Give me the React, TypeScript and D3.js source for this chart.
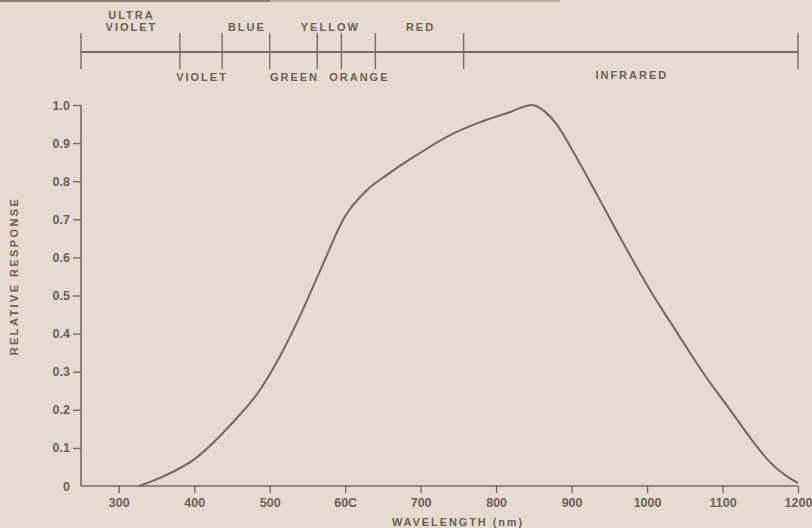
import React, { useEffect, useRef } from "react";
import * as d3 from "d3";

const width = 812;
const height = 528;
const marginTop = 105;
const marginRight = 14;
const marginBottom = 42;
const marginLeft = 81;

// response curve
const wavelengths = [
  327, 360, 400, 447, 487, 514, 540, 567, 600, 629, 655, 695, 739, 779, 815,
  848, 865, 880, 902, 924, 960, 1004, 1040, 1074, 1110, 1140, 1163, 1185, 1200,
];
const responses = [
  0, 0.026, 0.07, 0.158, 0.252, 0.342, 0.446, 0.566, 0.708, 0.777, 0.816,
  0.869, 0.921, 0.955, 0.979, 1.0, 0.982, 0.95, 0.878, 0.8, 0.668, 0.514,
  0.402, 0.298, 0.2, 0.118, 0.062, 0.026, 0.008,
];

const xTicks = [300, 400, 500, 600, 700, 800, 900, 1000, 1100, 1200];
const xTickLabels = ["300", "400", "500", "60C", "700", "800", "900", "1000", "1100", "1200"];
const yTicks = [0, 0.1, 0.2, 0.3, 0.4, 0.5, 0.6, 0.7, 0.8, 0.9, 1.0];

// spectrum bands on top
const bandEdges = [250, 381, 437, 500, 563, 595, 640, 757, 1200];
const bandNames = ["ULTRA|VIOLET", "VIOLET", "BLUE", "GREEN", "YELLOW", "ORANGE", "RED", "INFRARED"];

const ink = "#766a62";
const textInk = "#6a5e57";
const font = "'Liberation Sans', Arial, sans-serif";

export default function App() {
  const ref = useRef<SVGSVGElement>(null);

  useEffect(() => {
    const svg = d3.select(ref.current);
    svg.selectAll("*").remove();

    const x = d3.scaleLinear().domain([250, 1200]).range([marginLeft, width - marginRight]);
    const y = d3.scaleLinear().domain([0, 1]).range([height - marginBottom, marginTop]);

    svg.append("rect").attr("width", width).attr("height", height).attr("fill", "#e5dccf");

    // scan edge at the top
    svg.append("line").attr("x1", 0).attr("x2", 270).attr("y1", 1).attr("y2", 1)
      .attr("stroke", "#8a7b6e").attr("stroke-width", 2);
    svg.append("line").attr("x1", 270).attr("x2", 560).attr("y1", 1).attr("y2", 1)
      .attr("stroke", "#a99b8e").attr("stroke-width", 1.5);

    // spectrum bar
    const barY = 52;
    const bar = svg.append("g").attr("stroke", ink).attr("stroke-width", 1.4);
    bar.append("line")
      .attr("x1", x(bandEdges[0])).attr("x2", x(bandEdges[bandEdges.length - 1]))
      .attr("y1", barY).attr("y2", barY).attr("stroke-width", 1.8);
    bar.selectAll(".edge").data(bandEdges).join("line")
      .attr("x1", d => x(d)).attr("x2", d => x(d))
      .attr("y1", 33).attr("y2", 69);

    const labels = svg.append("g")
      .attr("font-family", font).attr("font-size", 11).attr("font-weight", "bold")
      .attr("fill", textInk).attr("letter-spacing", 2).attr("text-anchor", "middle");
    bandNames.forEach((name, i) => {
      const cx = (x(bandEdges[i]) + x(bandEdges[i + 1])) / 2;
      const above = i % 2 === 0;
      const lines = name.split("|");
      lines.forEach((ln, j) => {
        const base = above ? 31 - (lines.length - 1 - j) * 12.5 : (name === "INFRARED" ? 79 : 81);
        labels.append("text").attr("x", cx + 1).attr("y", base).text(ln);
      });
    });

    // y axis
    const yAxis = svg.append("g").attr("transform", `translate(${marginLeft},0)`)
      .call(d3.axisLeft(y).tickValues(yTicks).tickSize(8).tickPadding(3)
        .tickFormat(d => (d === 0 ? "0" : d3.format(".1f")(d as number))));
    yAxis.select(".domain").attr("stroke", ink).attr("stroke-width", 1.6)
      .attr("d", `M0,${y(1)}V${y(0)}`);
    yAxis.selectAll(".tick line").attr("stroke", ink).attr("stroke-width", 1.4);
    yAxis.select(".tick:first-of-type line").remove();
    yAxis.selectAll(".tick text").attr("fill", textInk).attr("font-family", font)
      .attr("font-size", 12.5).attr("font-weight", "bold");
    yAxis.select(".tick:first-of-type text").attr("x", -11);

    // x axis
    const xAxis = svg.append("g").attr("transform", `translate(0,${y(0)})`)
      .call(d3.axisBottom(x).tickValues(xTicks).tickSize(7).tickPadding(5)
        .tickFormat((d, i) => xTickLabels[i]));
    xAxis.select(".domain").attr("stroke", ink).attr("stroke-width", 1.6)
      .attr("d", `M${x(250)},0H${x(1200)}`);
    xAxis.selectAll(".tick line").attr("stroke", ink).attr("stroke-width", 1.4);
    xAxis.selectAll(".tick text").attr("fill", textInk).attr("font-family", font)
      .attr("font-size", 12.5).attr("font-weight", "bold");

    // axis titles
    svg.append("text")
      .attr("x", 458).attr("y", 526)
      .attr("text-anchor", "middle").attr("font-family", font).attr("font-size", 11)
      .attr("font-weight", "bold").attr("letter-spacing", 1.9).attr("fill", textInk)
      .text("WAVELENGTH (nm)");
    svg.append("text")
      .attr("transform", `translate(18,276) rotate(-90)`)
      .attr("text-anchor", "middle").attr("font-family", font).attr("font-size", 11)
      .attr("font-weight", "bold").attr("letter-spacing", 2.4).attr("fill", textInk)
      .text("RELATIVE RESPONSE");

    // response curve
    const pts = wavelengths.map((w, i) => [w, responses[i]] as [number, number]);
    svg.append("path")
      .datum(pts)
      .attr("fill", "none")
      .attr("stroke", "#74665e")
      .attr("stroke-width", 2)
      .attr("d", d3.line<[number, number]>()
        .curve(d3.curveMonotoneX)
        .x(d => x(d[0]))
        .y(d => y(d[1])));
  }, []);

  return (
    <svg
      ref={ref}
      width={width}
      height={height}
      viewBox={`0 0 ${width} ${height}`}
      style={{ position: "absolute", left: 0, top: 0, display: "block" }}
    ></svg>
  );
}
